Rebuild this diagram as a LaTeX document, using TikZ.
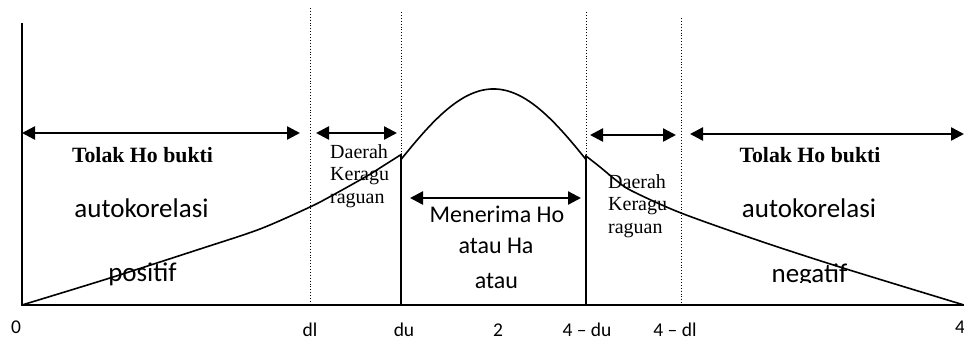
\documentclass[tikz,border=0pt]{standalone}
\usepackage{fontspec}
\setmainfont{Liberation Serif}
\newfontfamily\calib{Carlito}
\usetikzlibrary{arrows.meta}
\begin{document}
\begin{tikzpicture}[x=1pt,y=-1pt,
  axisline/.style={line width=1.6pt},
  dotline/.style={line width=0.9pt,dotted},
  rangearrow/.style={line width=2.4pt,{Triangle[length=13pt,width=13pt]}-{Triangle[length=13pt,width=13pt]}},
  biglabel/.style={font=\calib\fontsize{27}{30}\selectfont,inner sep=0pt,anchor=base},
  midlabel/.style={font=\calib\fontsize{24}{28}\selectfont,inner sep=0pt,anchor=base},
  ticklabel/.style={font=\calib\fontsize{19.5}{22}\selectfont,inner sep=0pt,anchor=base},
  boldlabel/.style={font=\bfseries\fontsize{21.8}{24}\selectfont,inner sep=0pt,anchor=base},
  smallserif/.style={font=\fontsize{20}{22.5}\selectfont,inner sep=0pt,align=left,anchor=base west}]
\useasboundingbox (0,0) rectangle (964,341);
% coordinates
\coordinate (o) at (22,305);
\coordinate (top) at (22,23);
\coordinate (xend) at (964,305);
% dotted lines
\coordinate (dlT) at (310,8); \coordinate (dlB) at (310,305);
\coordinate (duT) at (401,12); \coordinate (duB) at (401,305);
\coordinate (udT) at (586,12); \coordinate (udB) at (586,305);
\coordinate (ldT) at (681,18); \coordinate (ldB) at (681,305);
\draw[dotline] (dlT) -- (dlB);
\draw[dotline] (duT) -- (duB);
\draw[dotline] (udT) -- (udB);
\draw[dotline] (ldT) -- (ldB);
% left region text
\node[boldlabel] (tl1) at (142.5,162) {Tolak Ho bukti};
\node[biglabel] (tl2) at (141.5,217) {autokorelasi};
\node[biglabel] (tl3) at (142.5,281) {positif};
% right region text
\node[boldlabel] (tr1) at (810,162) {Tolak Ho bukti};
\node[biglabel] (tr2) at (809,217) {autokorelasi};
\begin{scope}
\clip (740,250) rectangle (880,282);
\node[biglabel] (tr3) at (809.5,282) {negatif};
\end{scope}
% doubt regions (anchored at the baseline of the last line)
\node[smallserif] (d1) at (330,203) {Daerah\\Keragu\\raguan};
\node[smallserif] (d2) at (608,233) {Daerah\\Keragu\\raguan};
% middle
\node[midlabel] (m1) at (497,222) {Menerima Ho};
\node[midlabel] (m2) at (496,253) {atau Ha};
\node[midlabel] (m3) at (496.5,288) {atau};
% axes
\draw[axisline] (top) -- (o) -- (xend);
% solid lines under curve
\coordinate (duC) at (401,155); \coordinate (udC) at (586,156);
\draw[axisline] (duC) -- (duB);
\draw[axisline] (udC) -- (udB);
% curve
\draw[line width=1.6pt]
 plot[smooth,tension=0.5] coordinates {
 (22,305) (110,278) (200,249) (260,229) (310,207) (333,195) (367,176) (383,166) (401,154.6)}
 -- plot[domain=401:586,samples=60] (\x,{305-216*exp(-0.5*((\x-493.5)/104)^2)})
 -- plot[smooth,tension=0.5] coordinates {
 (586,156) (600,167) (617,181) (632,191) (681,213) (760,241) (843,268) (964,305)};
% arrows
\coordinate (a1l) at (22,133); \coordinate (a1r) at (300,133);
\coordinate (a2l) at (316,133); \coordinate (a2r) at (397,133);
\coordinate (a3l) at (590,135); \coordinate (a3r) at (676,135);
\coordinate (a4l) at (690,134); \coordinate (a4r) at (964,134);
\coordinate (a5l) at (410,198); \coordinate (a5r) at (581,198);
\draw[rangearrow] (a1l) -- (a1r);
\draw[rangearrow] (a2l) -- (a2r);
\draw[rangearrow] (a3l) -- (a3r);
\draw[rangearrow] (a4l) -- (a4r);
\draw[rangearrow] (a5l) -- (a5r);
% tick labels
\node[ticklabel] (t0) at (16,333) {0};
\node[ticklabel] (t1) at (310,336) {dl};
\node[ticklabel] (t2) at (404,336) {du};
\node[ticklabel] (t3) at (498,336) {2};
\node[ticklabel] (t4) at (587,336) {4 – du};
\node[ticklabel] (t5) at (675,336) {4 – dl};
\node[ticklabel,anchor=base west] (t6) at (955,333) {4};
\end{tikzpicture}
\end{document}
